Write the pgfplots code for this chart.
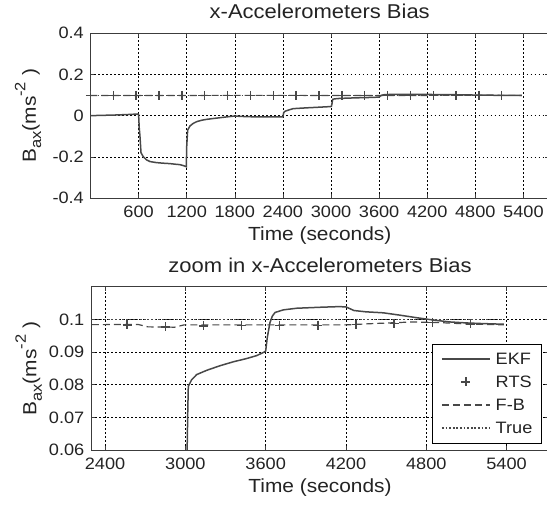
\documentclass[border=0pt]{standalone}
\usepackage{fontspec}
\setmainfont{Liberation Sans}[FakeStretch=1.1]
\usepackage{pgfplots}
\pgfplotsset{compat=1.18}
\usepackage{pgfplotstable}

\definecolor{curve}{RGB}{72,72,72}
\definecolor{frame}{RGB}{60,60,60}
\definecolor{txt}{RGB}{35,35,35}

% EKF estimate
\pgfplotstableread{
x y
0 0.000
300 0.003
500 0.006
590 0.008
600 0.005
608 -0.06
617 -0.10
630 -0.18
659 -0.200
700 -0.215
742 -0.223
820 -0.228
908 -0.231
992 -0.233
1060 -0.236
1116 -0.238
1160 -0.243
1195 -0.248
1200 -0.150
1212 -0.070
1241 -0.050
1280 -0.038
1325 -0.029
1390 -0.022
1449 -0.018
1530 -0.014
1615 -0.010
1700 -0.006
1794 -0.002
1850 -0.003
1948 -0.005
2100 -0.006
2250 -0.006
2400 -0.006
2410 0.015
2430 0.022
2526 0.034
2700 0.038
2850 0.041
2990 0.044
3005 0.045
3014 0.062
3018 0.072
3022 0.0795
3047 0.0815
3085 0.0831
3160 0.0844
3259 0.0858
3358 0.0870
3458 0.0880
3533 0.0889
3590 0.0900
3600 0.0903
3612 0.0944
3632 0.0990
3650 0.1010
3670 0.1021
3732 0.1029
3832 0.1034
4006 0.1037
4150 0.1039
4200 0.1038
4260 0.1027
4350 0.1023
4479 0.1020
4600 0.1013
4728 0.1005
4850 0.0998
4977 0.0992
5100 0.0989
5224 0.0987
5380 0.0985
}\ekf

% RTS smoother (markers only)
\pgfplotstableread{
x y
0 0.0982
285 0.0982
570 0.0982
855 0.0982
1140 0.0982
1425 0.0982
1710 0.0982
1995 0.0982
2280 0.0983
2565 0.0983
2850 0.0977
3135 0.0980
3420 0.0982
3705 0.0982
3990 0.0982
4275 0.0984
4560 0.0988
4845 0.0991
5130 0.0986
}\rts

% forward-backward smoother
\pgfplotstableread{
x y
0 0.0983
2650 0.0984
2720 0.0977
2920 0.0976
2990 0.0983
4200 0.0983
4400 0.0987
4700 0.0992
4900 0.0990
5100 0.0986
5380 0.0983
}\fb

% true bias
\pgfplotstableread{
x y
0 0.1
5380 0.1
}\truth

\pgfplotsset{
  matlab/.style={
    scale only axis,
    axis line style={frame, line width=0.8pt},
    tick align=inside,
    major tick length=4pt,
    tick style={frame, line width=0.6pt},
    grid=major,
    major grid style={black, line width=0.5pt, dash pattern=on 1.8pt off 2.2pt},
    tick label style={font=\fontsize{16.5}{18}\selectfont, text=txt},
    /pgf/number format/assume math mode=true,
    yticklabel style={inner sep=0pt, xshift=-6.5pt},
    xticklabel style={inner sep=0pt, yshift=-7.5pt},
    label style={font=\fontsize{19}{21}\selectfont, text=txt},
    title style={font=\fontsize{20}{22}\selectfont, text=txt, at={(0.5,1.135)}, anchor=center, yshift=-6.5pt},
    xlabel style={at={(0.5,-0.23)}, anchor=center},
    ylabel style={at={(-0.136,0.5)}, anchor=center},
    xlabel={Time (seconds)},
    ylabel={B\raisebox{-0.28em}{\fontsize{15}{15}\selectfont ax}(ms\raisebox{0.55em}{\fontsize{15}{15}\selectfont -2}\,\,)},
  },
  ekfstyle/.style={curve, line width=1.5pt},
  rtsstyle/.style={curve, only marks, mark=+, mark size=4.5pt, mark options={line width=1.4pt}},
  fbstyle/.style={curve, line width=1.2pt, dash pattern=on 7pt off 4pt},
  truestyle/.style={curve, line width=1.1pt, dash pattern=on 1.8pt off 1.8pt},
}

\begin{document}
\begin{tikzpicture}
\begin{axis}[matlab,
  at={(90.5pt,311pt)}, anchor=south west,
  width=458.5pt, height=164.7pt,
  xmin=0, xmax=5719, ymin=-0.4, ymax=0.4,
  xtick={600,1200,1800,2400,3000,3600,4200,4800,5400},
  xticklabels={600,1200,1800,2400,3000,3600,4200,4800,5400},
  ytick={-0.4,-0.2,0,0.2,0.4},
  yticklabels={-0.4,-0.2,0,0.2,0.4},
  title={x-Accelerometers Bias},
]
\addplot[ekfstyle] table {\ekf};
\addplot[rtsstyle] table {\rts};
\addplot[fbstyle] table {\fb};
\addplot[truestyle] table {\truth};
\end{axis}

\begin{axis}[matlab,
  at={(91pt,59pt)}, anchor=south west,
  width=458pt, height=163.3pt,
  xmin=2295, xmax=5717, ymin=0.06, ymax=0.11,
  xtick={2400,3000,3600,4200,4800,5400},
  xticklabels={2400,3000,3600,4200,4800,5400},
  ytick={0.06,0.07,0.08,0.09,0.1},
  yticklabels={0.06,0.07,0.08,0.09,0.1},
  title={zoom in x-Accelerometers Bias},
  legend cell align=left,
  legend image code/.code={\draw[mark repeat=2,mark phase=2,#1] plot coordinates {(0pt,0pt) (24pt,0pt) (48pt,0pt)};},
  legend style={at={(0.984,0.041)}, anchor=south east, draw=black, line width=0.6pt, fill=white,
    inner xsep=9pt, inner ysep=9pt, font=\fontsize{16.5}{18}\selectfont,
    row sep=11pt, column sep=5pt,
    nodes={inner sep=0pt, text height=12pt, text depth=0pt, text=txt}},
]
\addplot[ekfstyle] table {\ekf};
\addlegendentry{EKF}
\addplot[rtsstyle] table {\rts};
\addlegendentry{RTS}
\addplot[fbstyle] table {\fb};
\addlegendentry{F-B}
\addplot[truestyle] table {\truth};
\addlegendentry{True}
\end{axis}

\pgfresetboundingbox
\path[use as bounding box] (0,0) rectangle (547pt,509pt);
\end{tikzpicture}
\end{document}
